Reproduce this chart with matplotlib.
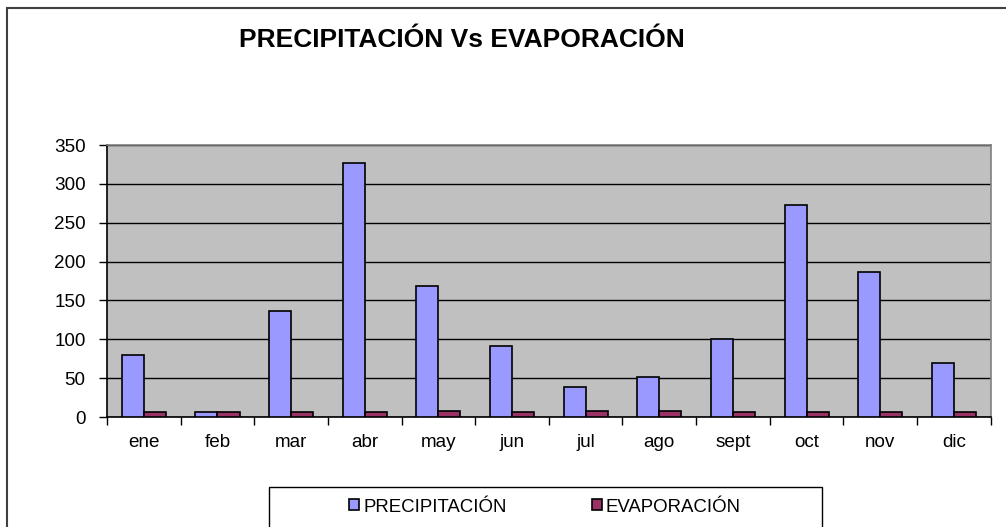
import matplotlib.pyplot as plt
from matplotlib.patches import Rectangle
import numpy as np

plt.rcParams['font.family'] = ['Liberation Sans', 'DejaVu Sans']

meses = ['ene', 'feb', 'mar', 'abr', 'may', 'jun', 'jul', 'ago', 'sept', 'oct', 'nov', 'dic']
precipitacion = [80, 6, 136, 327, 168, 92, 39, 52, 101, 273, 186, 70]
evaporacion = [7, 6, 7, 7, 8, 7, 8, 8, 7, 7, 7, 7]

W, H = 1006, 527
fig = plt.figure(figsize=(W / 100, H / 100), dpi=100)
fig.patch.set_facecolor('white')

# outer chart border (runs off right/bottom edge)
fig.patches.append(Rectangle((7 / W, -0.1), 1.1, 1 - 8 / H + 0.1, transform=fig.transFigure,
                             fill=False, edgecolor='#404040', linewidth=1.5))

ax = fig.add_axes([107 / W, 1 - 417 / H, (990.7 - 107) / W, 272 / H])
ax.set_facecolor('#C0C0C0')

x = np.arange(len(meses))
w = 0.30
ax.bar(x - w / 2, precipitacion, w, color='#9999FF', edgecolor='black', linewidth=1.2,
       label='PRECIPITACIÓN', zorder=3)
ax.bar(x + w / 2, evaporacion, w, color='#993366', edgecolor='black', linewidth=1.2,
       label='EVAPORACIÓN', zorder=3)

ax.set_xlim(-0.5, len(meses) - 0.5)
ax.set_ylim(0, 350)
ax.set_yticks(range(0, 351, 50))
ax.yaxis.grid(True, color='black', linewidth=1, zorder=1)
ax.tick_params(axis='y', length=6, width=1, pad=9.4, labelsize=13.6, color='black')

ax.set_xticks(x)
ax.set_xticklabels(meses)
ax.set_xticks(np.arange(-0.5, len(meses)), minor=True)
ax.tick_params(axis='x', which='major', length=0, pad=12.5, labelsize=13.6)
ax.tick_params(axis='x', which='minor', length=6, width=1, color='black')

ax.spines['left'].set_color('black')
ax.spines['bottom'].set_color('black')
ax.spines['top'].set_color('#808080')
ax.spines['right'].set_color('#808080')
for s in ax.spines.values():
    s.set_linewidth(1.2)

fig.text(462 / W, 1 - 40 / H, 'PRECIPITACIÓN Vs EVAPORACIÓN', ha='center', va='center',
         fontsize=19, fontweight='bold')

# legend box (runs off bottom edge)
fig.patches.append(Rectangle((269 / W, -0.1), (822 - 269) / W, 0.1 + 1 - 487 / H,
                             transform=fig.transFigure, facecolor='white',
                             edgecolor='black', linewidth=1))
handles, labels = ax.get_legend_handles_labels()
fig.legend(handles, labels, loc='center left', bbox_to_anchor=(340 / W, 1 - 507 / H),
           ncol=2, frameon=False, fontsize=13.4, borderpad=0, handlelength=0.54,
           handleheight=0.54, handletextpad=0.2, columnspacing=4.6)

fig.savefig('out.png', dpi=100)
